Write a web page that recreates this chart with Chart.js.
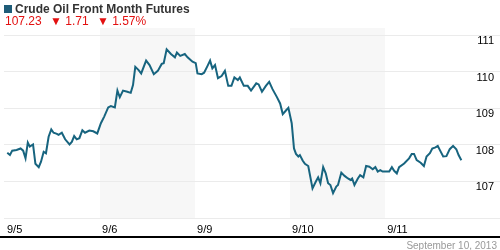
<!DOCTYPE html>
<html>
<head>
<meta charset="utf-8">
<script src="https://cdn.jsdelivr.net/npm/chart.js@4/dist/chart.umd.min.js"></script>
<style>
  html, body { margin: 0; padding: 0; background: #fff; }
  #wrap { position: relative; width: 500px; height: 250px; overflow: hidden; font-family: "Liberation Sans", Arial, sans-serif; }
  #chart { position: absolute; left: 0; top: 0; }
  .head { position: absolute; left: 4px; top: 2px; font-size: 12px; font-weight: bold; color: #333; white-space: nowrap; }
  .head .sq { display: inline-block; width: 8px; height: 8px; background: #1e5c78; margin-right: 3px; vertical-align: 0px; }
  .quote { position: absolute; left: 5px; top: 14px; font-size: 12px; color: #e31010; white-space: nowrap; }
  .quote .gap { display: inline-block; width: 5px; }
  .date { position: absolute; right: 3px; top: 240px; font-size: 10px; color: #999; white-space: nowrap; }
</style>
</head>
<body>
<div id="wrap">
  <canvas id="chart" width="500" height="250"></canvas>
  <div class="head"><span class="sq"></span>Crude Oil Front Month Futures</div>
  <div class="quote">107.23 <span class="gap"></span>▼ 1.71 <span class="gap"></span>▼ 1.57%</div>
  <div class="date">September 10, 2013</div>
</div>
<script>
// trading days shown on the x axis (one unit per day)
const dayLabels = ['9/5', '9/6', '9/9', '9/10', '9/11'];
const shadedDays = [1, 3];
const yTicks = [106, 107, 108, 109, 110, 111];

// position within the session, in days from the start of 9/5
const times = [
  0.024, 0.052, 0.076, 0.122, 0.164, 0.191, 0.216, 0.240, 0.261, 0.295,
  0.320, 0.355, 0.379, 0.407, 0.431, 0.459, 0.487, 0.511, 0.546, 0.564,
  0.598, 0.633, 0.679, 0.703, 0.728, 0.755, 0.783, 0.814, 0.842, 0.887,
  0.929, 0.971, 1.009, 1.044, 1.086, 1.114, 1.156, 1.183, 1.208, 1.242,
  1.287, 1.323, 1.347, 1.371, 1.406, 1.433, 1.485, 1.521, 1.566, 1.608,
  1.649, 1.670, 1.701, 1.746, 1.788, 1.809, 1.844, 1.892, 1.921, 1.973,
  2.007, 2.025, 2.070, 2.095, 2.130, 2.158, 2.182, 2.210, 2.241, 2.279,
  2.314, 2.349, 2.383, 2.414, 2.450, 2.471, 2.513, 2.554, 2.589, 2.644,
  2.669, 2.704, 2.745, 2.780, 2.815, 2.860, 2.895, 2.923, 2.954, 2.982,
  3.017, 3.041, 3.062, 3.087, 3.103, 3.132, 3.156, 3.191, 3.236, 3.270,
  3.295, 3.319, 3.348, 3.375, 3.400, 3.424, 3.452, 3.486, 3.504, 3.539,
  3.573, 3.609, 3.636, 3.653, 3.677, 3.713, 3.737, 3.771, 3.800, 3.834,
  3.869, 3.897, 3.922, 3.949, 3.974, 4.001, 4.043, 4.071, 4.095, 4.123,
  4.147, 4.200, 4.252, 4.280, 4.304, 4.332, 4.374, 4.408, 4.436, 4.471,
  4.496, 4.530, 4.554, 4.575, 4.611, 4.645, 4.680, 4.715, 4.749, 4.773,
  4.802
];

// crude oil front month price
const prices = [
  107.78, 107.72, 107.84, 107.86, 107.90, 107.84, 107.63, 108.06, 107.95, 108.01,
  107.48, 107.39, 107.54, 107.81, 107.77, 108.22, 108.42, 108.33, 108.30, 108.27,
  108.33, 108.15, 108.01, 108.08, 108.24, 108.15, 108.18, 108.40, 108.33, 108.39,
  108.37, 108.31, 108.59, 108.77, 109.02, 109.06, 109.02, 109.48, 109.30, 109.48,
  109.45, 109.42, 109.63, 110.13, 110.04, 109.95, 110.30, 110.18, 109.93, 110.02,
  110.21, 110.23, 110.61, 110.48, 110.39, 110.52, 110.43, 110.48, 110.39, 110.27,
  110.23, 109.95, 109.93, 109.97, 110.15, 110.30, 110.09, 110.18, 109.82, 109.88,
  110.02, 109.61, 109.61, 109.84, 109.77, 109.84, 109.61, 109.61, 109.48, 109.68,
  109.65, 109.45, 109.61, 109.72, 109.52, 109.31, 109.13, 108.84, 108.93, 109.01,
  108.59, 107.90, 107.75, 107.68, 107.72, 107.57, 107.48, 107.42, 106.81, 106.99,
  107.11, 106.95, 107.39, 107.22, 106.95, 106.90, 106.68, 106.86, 106.90, 107.24,
  107.15, 107.08, 107.04, 107.08, 106.90, 107.08, 107.17, 107.11, 107.42, 107.40,
  107.33, 107.39, 107.27, 107.31, 107.27, 107.27, 107.27, 107.39, 107.29, 107.22,
  107.39, 107.49, 107.63, 107.75, 107.75, 107.58, 107.51, 107.42, 107.68, 107.77,
  107.90, 107.93, 107.97, 107.86, 107.68, 107.69, 107.88, 107.97, 107.88, 107.72,
  107.58
];

// grey bands behind alternate days + black base line
const bandsPlugin = {
  id: 'bands',
  beforeDraw(chart) {
    const { ctx, chartArea, scales: { x } } = chart;
    ctx.save();
    ctx.fillStyle = '#f7f7f7';
    shadedDays.forEach(function(d) {
      const x0 = Math.round(x.getPixelForValue(d));
      const x1 = Math.round(x.getPixelForValue(d + 1));
      ctx.fillRect(x0, 28, x1 - x0, chartArea.bottom - 28);
    });
    ctx.restore();
  },
  afterDraw(chart) {
    const { ctx } = chart;
    ctx.save();
    ctx.fillStyle = '#000';
    ctx.fillRect(0, 236, chart.width, 2);
    ctx.restore();
  }
};

const ctx = document.getElementById('chart').getContext('2d');
const oilChart = new Chart(ctx, {
  type: 'line',
  data: {
    datasets: [{
      data: times.map(function(t, i) { return { x: t, y: prices[i] }; }),
      borderColor: '#17647f',
      borderWidth: 2,
      pointRadius: 0,
      tension: 0,
      fill: false
    }]
  },
  options: {
    responsive: false,
    animation: false,
    layout: { padding: { left: 0, right: 0, top: 35, bottom: 0 } },
    plugins: { legend: { display: false }, tooltip: { enabled: false } },
    scales: {
      x: {
        type: 'linear',
        min: -1 / 95.8,
        max: 499 / 95.8,
        grid: { display: false, drawTicks: false },
        border: { display: false },
        afterBuildTicks: function(scale) {
          scale.ticks = dayLabels.map(function(l, i) { return { value: i }; });
        },
        afterFit: function(scale) { scale.height = 32; },
        ticks: {
          autoSkip: false,
          maxRotation: 0,
          align: 'start',
          labelOffset: 2,
          padding: 5,
          color: '#000',
          font: { family: 'Liberation Sans, Arial', size: 11 },
          callback: function(v) { return dayLabels[v]; }
        }
      },
      y: {
        position: 'right',
        min: 106,
        max: 111,
        grid: { color: '#ebebeb', drawTicks: false },
        border: { display: false },
        afterBuildTicks: function(scale) {
          scale.ticks = yTicks.map(function(v) { return { value: v }; });
        },
        afterFit: function(scale) { scale.width = 0; },
        ticks: {
          mirror: true,
          padding: -6,
          labelOffset: 6,
          color: '#000',
          font: { family: 'Liberation Sans, Arial', size: 11 },
          callback: function(v) { return v === 106 ? '' : v; }
        }
      }
    }
  },
  plugins: [bandsPlugin]
});
</script>
</body>
</html>
